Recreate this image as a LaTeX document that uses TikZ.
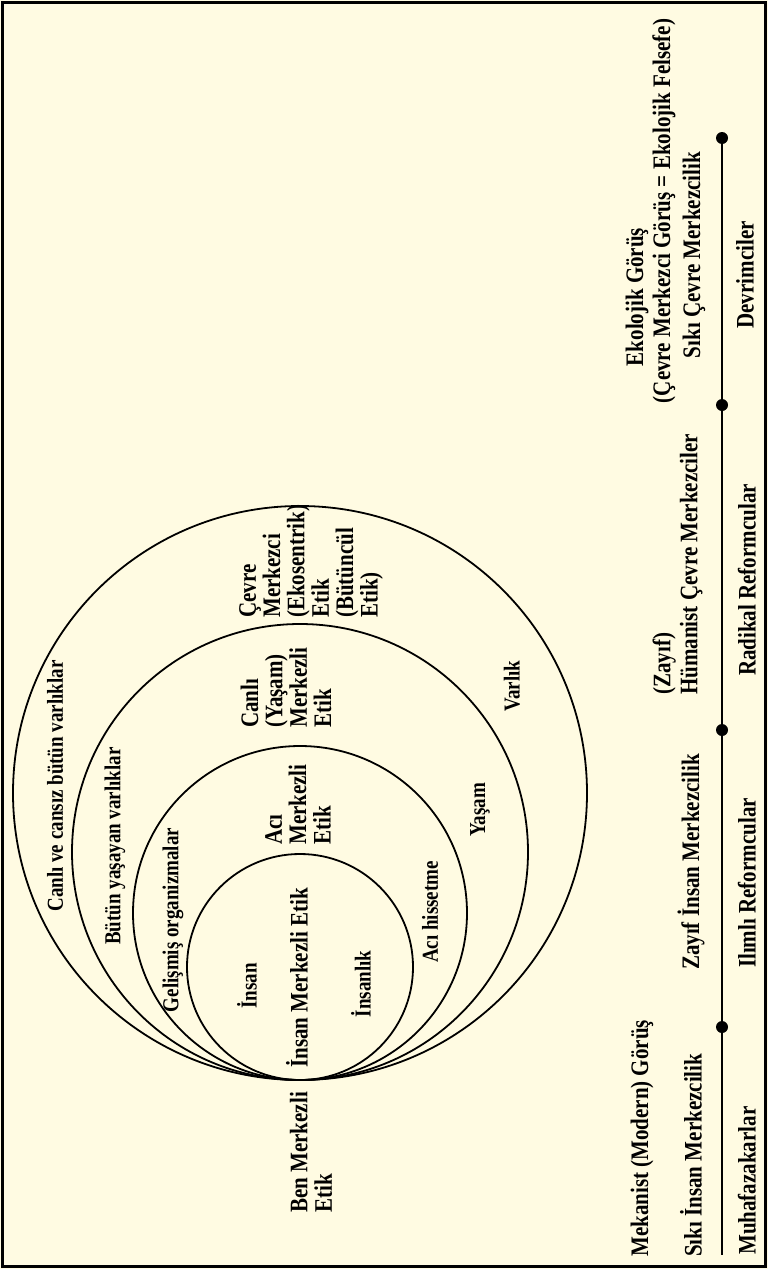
\documentclass[tikz,border=0pt]{standalone}
\usepackage{fontspec}
\setmainfont{Liberation Serif}
\definecolor{bg}{RGB}{255,251,226}
\begin{document}
\begin{tikzpicture}[x=1pt,y=-1pt,
  lbl/.style={rotate=90, yscale=1.2, font=\fontsize{19}{18}\selectfont\bfseries, inner sep=0pt},
  eth/.style={rotate=90, yscale=1.2, font=\fontsize{21}{20.3}\selectfont\bfseries, inner sep=0pt, align=left},
  side/.style={rotate=90, yscale=1.2, font=\fontsize{21}{22.5}\selectfont\bfseries, inner sep=0pt, align=left},
  ring/.style={line width=1.8pt},
  dot/.style={circle, fill=black, inner sep=0pt, minimum size=12pt},
  axisline/.style={line width=2.6pt}]
\useasboundingbox (0,0) rectangle (768,1269);
\fill[bg] (0,0) rectangle (768,1269);
\draw[line width=2.8pt] (2.5,2.5) rectangle (765.5,1266.5);

% nested rings, all touching at the bottom point
\draw[ring] (300,967) circle[radius=113pt];
\draw[ring] (300,913) circle[radius=167pt];
\draw[ring] (300,852) circle[radius=228pt];
\draw[ring] (300,793) circle[radius=287pt];

% ring labels
\node[lbl] (l5) at (55,786) {Canlı ve cansız bütün varlıklar};
\node[lbl] (l4) at (115,846) {Bütün yaşayan varlıklar};
\node[lbl] (l3) at (173,920) {Gelişmiş organizmalar};
\node[lbl] (insan) at (247,986) {İnsan};
\node[lbl] (insanlik) at (361,984) {İnsanlık};
\node[lbl] (acih) at (430,912) {Acı hissetme};
\node[lbl] (yasam) at (480,810) {Yaşam};
\node[lbl] (varlik) at (512,686) {Varlık};

% ethics labels
\node[eth, anchor=west] (ben) at (311,1213) {Ben Merkezli\\Etik};
\node[eth, anchor=west] (ime) at (297,1068) {İnsan Merkezli Etik};
\node[eth, anchor=west] (ame) at (298,845) {Acı\\Merkezli\\Etik};
\node[eth, anchor=west] (cme) at (286,728) {Canlı\\(Yaşam)\\Merkezli\\Etik};
\node[eth, anchor=west] (cvme) at (311,618) {Çevre\\Merkezci\\(Ekosentrik)\\Etik\\(Bütüncül\\Etik)};

% side labels
\node[side, anchor=west] (mek) at (642,1257) {Mekanist (Modern) Görüş};
\node[side, anchor=west] (sik) at (691,1257) {Sıkı İnsan Merkezcilik};
\node[side, anchor=west] (muh) at (747,1255) {Muhafazakarlar};
\node[side] (zay) at (691,862) {Zayıf İnsan Merkezcilik};
\node[side] (ilm) at (747,883) {Ilımlı Reformcular};
\node[side, anchor=west] (hum) at (677.5,695) {(Zayıf)\\Hümanist Çevre Merkezciler};
\node[side] (rad) at (747,580) {Radikal Reformcular};
\node[side] (eko) at (637,297) {Ekolojik Görüş};
\node[side] (ekof) at (664,211) {(Çevre Merkezci Görüş = Ekolojik Felsefe)};
\node[side] (sikc) at (694,255) {Sıkı Çevre Merkezcilik};
\node[side] (dev) at (745,275) {Devrimciler};

% timeline
\node[dot] (d1) at (722,138) {};
\node[dot] (d2) at (722,405) {};
\node[dot] (d3) at (722,730) {};
\node[dot] (d4) at (722,1027) {};
\coordinate (lend) at (722,1255);
\draw[axisline] (d1.center) -- (d2.center) -- (d3.center) -- (d4.center) -- (lend);
\end{tikzpicture}
\end{document}
